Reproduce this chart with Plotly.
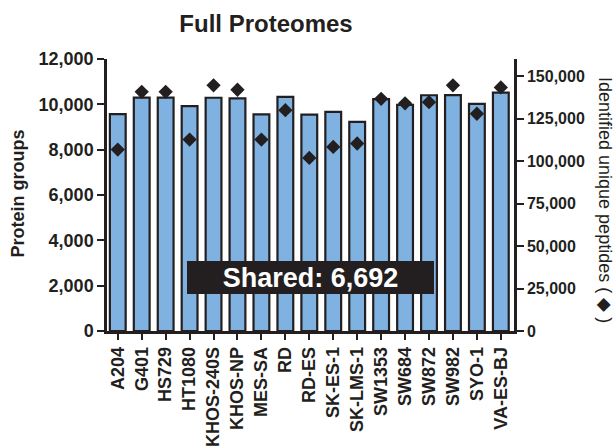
import plotly.graph_objects as go

cell_lines = ["A204", "G401", "HS729", "HT1080", "KHOS-240S", "KHOS-NP", "MES-SA",
              "RD", "RD-ES", "SK-ES-1", "SK-LMS-1", "SW1353", "SW684", "SW872",
              "SW982", "SYO-1", "VA-ES-BJ"]
protein_groups = [9570, 10300, 10300, 9920, 10290, 10260, 9560, 10330, 9550, 9670,
                  9230, 10230, 9980, 10400, 10410, 10020, 10520]
unique_peptides = [106700, 140700, 140700, 112600, 144500, 141900, 112600, 129900,
                   101800, 108300, 110300, 136600, 133900, 134600, 144500, 127800, 143300]
left_ticks = [0, 2000, 4000, 6000, 8000, 10000, 12000]
right_ticks = [0, 25000, 50000, 75000, 100000, 125000, 150000]
shared_text = "Shared: 6,692"

INK = "#231F20"
BAR = "#7FB2E0"
FONT = "Liberation Sans, Arial, Helvetica, sans-serif"

fig = go.Figure()
fig.add_trace(go.Bar(
    x=cell_lines, y=protein_groups, width=0.66,
    marker=dict(color=BAR, line=dict(color=INK, width=2.2)),
    yaxis="y", showlegend=False,
))
fig.add_trace(go.Scatter(
    x=cell_lines, y=unique_peptides, mode="markers",
    marker=dict(symbol="diamond", size=11, color=INK),
    yaxis="y2", showlegend=False,
))

fig.update_layout(
    width=615, height=448,
    margin=dict(l=107, r=101, t=59, b=117),
    paper_bgcolor="white", plot_bgcolor="white",
    font=dict(family=FONT, color=INK),
    title=dict(text="Full Proteomes", x=266 / 615, xanchor="center",
               y=1 - 24 / 448, yanchor="middle", xref="container", yref="container",
               font=dict(family=FONT, size=24, weight="bold", color=INK)),
    xaxis=dict(
        type="category", range=[-0.45, 16.55],
        tickmode="array", tickvals=cell_lines, ticktext=cell_lines,
        showline=True, linecolor=INK, linewidth=2.5,
        ticks="outside", ticklen=6, tickwidth=2, tickcolor=INK,
        tickangle=-90, tickfont=dict(size=18, weight="bold", color=INK),
        showgrid=False, zeroline=False, automargin=False,
    ),
    yaxis=dict(
        range=[0, 12000], tickvals=left_ticks, tickformat=",",
        showline=True, linecolor=INK, linewidth=2.5,
        ticks="outside", ticklen=7, tickwidth=2, tickcolor=INK,
        tickfont=dict(size=18, weight="bold", color=INK),
        showgrid=False, zeroline=False, automargin=False,
    ),
    yaxis2=dict(
        range=[0, 160000], tickvals=right_ticks, tickformat=",",
        overlaying="y", side="right", anchor="x",
        showline=True, linecolor=INK, linewidth=2.5,
        ticks="outside", ticklen=7, tickwidth=2, tickcolor=INK,
        tickfont=dict(size=16, weight="bold", color=INK),
        showgrid=False, zeroline=False, automargin=False,
    ),
)

# axis titles
fig.add_annotation(text="Protein groups", xref="paper", yref="paper",
                   x=(17 - 107) / 407, y=(331 - 193.5) / 272,
                   xanchor="center", yanchor="middle", textangle=-90, showarrow=False,
                   font=dict(size=18, weight="bold", color=INK))
fig.add_annotation(text="Identified unique peptides ( \u25C6 )", xref="paper", yref="paper",
                   x=(605 - 107) / 407, y=(331 - 200) / 272,
                   xanchor="center", yanchor="middle", textangle=90, showarrow=False,
                   font=dict(size=18, color=INK))

# shared protein count banner
fig.add_annotation(text=shared_text, xref="paper", yref="y",
                   x=0.5, y=2340, xanchor="center", yanchor="middle",
                   showarrow=False, bgcolor=INK, width=247, height=33,
                   borderpad=0, borderwidth=0,
                   font=dict(size=27, weight="bold", color="white"))

fig.write_html("out.html")
